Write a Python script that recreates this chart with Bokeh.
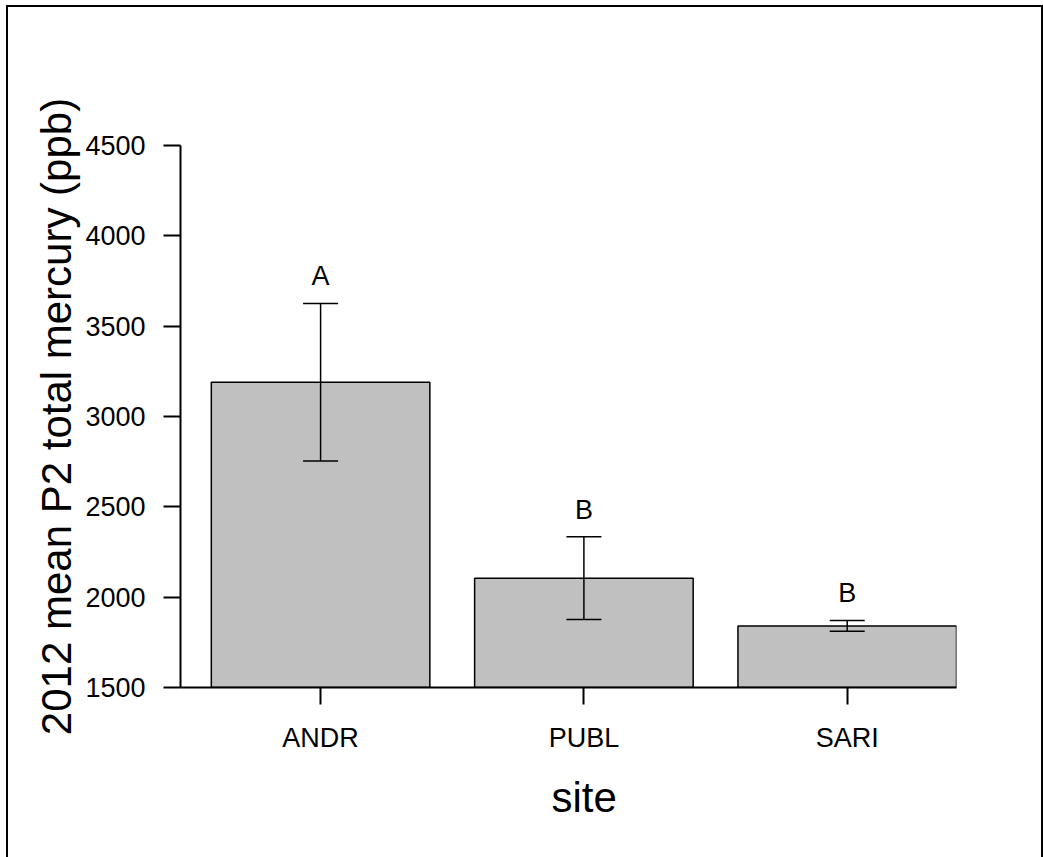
from bokeh.plotting import figure
from bokeh.models import Range1d, FixedTicker, Whisker, ColumnDataSource, Title, TeeHead
from bokeh.core.properties import value
from bokeh.embed import file_html
from bokeh.resources import INLINE

sites = ["ANDR", "PUBL", "SARI"]
means = [3190, 2105, 1841]
errors = [436, 229, 30]
letters = ["A", "B", "B"]
y_ticks = [1500, 2000, 2500, 3000, 3500, 4000, 4500]

FONT = "Liberation Sans"

xs = list(range(len(sites)))
src = ColumnDataSource(dict(
    x=xs,
    mean=means,
    upper=[m + e for m, e in zip(means, errors)],
    lower=[m - e for m, e in zip(means, errors)],
    letter=letters,
))

p = figure(width=1037, height=852, output_backend="svg", toolbar_location=None,
           x_range=Range1d(-0.532, 2.415), y_range=Range1d(1500, 4500),
           min_border_left=172, min_border_right=89, min_border_top=138,
           min_border_bottom=172)
p.outline_line_color = None
p.grid.visible = False
p.styles = {"border-left": "2px solid black", "border-top": "2px solid black",
            "border-right": "2px solid black", "box-sizing": "border-box",
            "margin-left": "6px", "margin-top": "5px"}

p.vbar(x="x", top="mean", bottom=1500, width=0.83, source=src,
       fill_color="#c0c0c0", line_color="black", line_width=1.5)

w = Whisker(base="x", upper="upper", lower="lower", source=src, level="overlay",
            line_color="black", line_width=1.5,
            upper_head=TeeHead(size=35, line_width=1.5, line_color="black"),
            lower_head=TeeHead(size=35, line_width=1.5, line_color="black"))
p.add_layout(w)

p.text(x="x", y="upper", text="letter", source=src, text_font=value(FONT),
       text_font_size="27px", text_align="center", text_baseline="alphabetic",
       y_offset=-27, text_color="black")

for ax in (p.xaxis[0], p.yaxis[0]):
    ax.axis_line_width = 2
    ax.axis_line_color = "black"
    ax.major_tick_line_width = 2
    ax.major_tick_line_color = "black"
    ax.major_tick_out = 17
    ax.major_tick_in = 0
    ax.minor_tick_line_color = None
    ax.major_label_text_font = FONT
    ax.major_label_text_font_size = "27px"
    ax.major_label_text_color = "black"

p.xaxis.ticker = FixedTicker(ticks=xs)
p.xaxis.major_label_overrides = {i: s for i, s in zip(xs, sites)}
p.xaxis.major_label_standoff = 18

p.yaxis.ticker = FixedTicker(ticks=y_ticks)
p.yaxis.major_label_standoff = 18
p.yaxis.axis_label = "2012 mean P2 total mercury (ppb)"
p.yaxis.axis_label_text_font = FONT
p.yaxis.axis_label_text_font_size = "42px"
p.yaxis.axis_label_text_font_style = "normal"
p.yaxis.axis_label_text_color = "black"
p.yaxis.axis_label_standoff = 2

p.add_layout(Title(text="site", align="left", offset=371, standoff=32,
                   text_font=FONT, text_font_size="42px",
                   text_font_style="normal", text_color="black"), "below")

open("out.html", "w").write(file_html(p, INLINE))
